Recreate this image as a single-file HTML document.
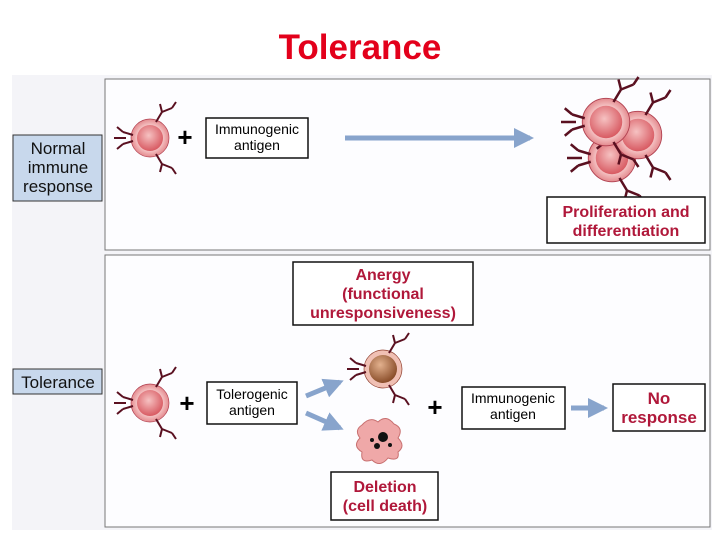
<!DOCTYPE html>
<html><head><meta charset="utf-8"><style>
html,body{margin:0;padding:0;background:#fff;width:720px;height:540px;overflow:hidden}
svg{display:block}
text{font-family:"Liberation Sans",sans-serif}
</style></head><body>
<svg width="720" height="540" viewBox="0 0 720 540">
<defs>
<radialGradient id="rc" cx="45%" cy="40%" r="60%"><stop offset="0" stop-color="#f6c2c2"/><stop offset="1" stop-color="#d85a62"/></radialGradient>
<radialGradient id="rr" cx="50%" cy="50%" r="50%"><stop offset="0.6" stop-color="#f8d0d0"/><stop offset="1" stop-color="#e48a8e"/></radialGradient>
<radialGradient id="bc" cx="40%" cy="35%" r="65%"><stop offset="0" stop-color="#e3b18e"/><stop offset="1" stop-color="#8a4e2a"/></radialGradient>
<g id="sp" stroke="#5a1020" stroke-width="2" fill="none">
<path d="M-17 -3 L-27 -6 M-17 3 L-27 6 M-27 -6 L-33 -11 M-27 6 L-33 11 M-24 0 L-36 0"/>
<path d="M6 -16 L12 -26 M12 -26 L10 -34 M12 -26 L22 -30 M22 -30 L26 -36"/>
<path d="M6 16 L12 26 M12 26 L10 34 M12 26 L22 30 M22 30 L26 36"/>
</g>
<g id="cell"><circle r="19" fill="url(#rr)" stroke="#b04050" stroke-width="0.7"/><circle r="13" fill="url(#rc)"/><use href="#sp"/></g>
<marker id="ah" viewBox="0 0 10 10" refX="8" refY="5" markerWidth="4" markerHeight="4" orient="auto"><path d="M0 0 L10 5 L0 10 z" fill="#88a4cc"/></marker>
</defs>
<text x="360" y="59" text-anchor="middle" font-size="35" font-weight="bold" fill="#e3001b" font-family="Liberation Sans">Tolerance</text>
<rect x="12" y="75" width="700" height="455" fill="#f4f4f8"/>
<rect x="105" y="79" width="605" height="171" fill="#fdfdff" stroke="#777" stroke-width="1"/>
<rect x="105" y="255" width="605" height="272" fill="#fdfdff" stroke="#777" stroke-width="1"/>
<g font-size="17" fill="#111" text-anchor="middle">
<rect x="13" y="135" width="89" height="66" fill="#c8d8ec" stroke="#333"/>
<text x="58" y="154">Normal</text><text x="58" y="173">immune</text><text x="58" y="192">response</text>
<rect x="13" y="369" width="89" height="25" fill="#c8d8ec" stroke="#333"/>
<text x="58" y="388">Tolerance</text>
</g>
<use href="#cell" x="150" y="138"/>
<text x="185" y="146" font-size="26" font-weight="bold" text-anchor="middle">+</text>
<rect x="206" y="118" width="102" height="40" fill="#fff" stroke="#111" stroke-width="1.5"/>
<text x="257" y="134" font-size="14" text-anchor="middle">Immunogenic</text><text x="257" y="150" font-size="14" text-anchor="middle">antigen</text>
<line x1="345" y1="138" x2="530" y2="138" stroke="#88a4cc" stroke-width="5" marker-end="url(#ah)"/>
<g transform="translate(612,158) scale(1.25)"><use href="#cell"/></g>
<g transform="translate(638,135) scale(1.25)"><use href="#cell"/></g>
<g transform="translate(606,122) scale(1.25)"><use href="#cell"/></g>
<rect x="547" y="197" width="158" height="46" fill="#fff" stroke="#111" stroke-width="1.5"/>
<g font-size="16" font-weight="bold" fill="#b0183a" text-anchor="middle">
<text x="626" y="217">Proliferation and</text><text x="626" y="236">differentiation</text>
<rect x="293" y="262" width="180" height="63" fill="#fff" stroke="#111" stroke-width="1.5"/>
<text x="383" y="280">Anergy</text><text x="383" y="299">(functional</text><text x="383" y="318">unresponsiveness)</text>
<rect x="331" y="472" width="107" height="48" fill="#fff" stroke="#111" stroke-width="1.5"/>
<text x="385" y="492">Deletion</text><text x="385" y="511">(cell death)</text>
<rect x="613" y="384" width="92" height="47" fill="#fff" stroke="#111" stroke-width="1.5"/>
<text x="659" y="404" font-size="17">No</text><text x="659" y="423" font-size="17">response</text>
</g>
<use href="#cell" x="150" y="403"/>
<text x="187" y="412" font-size="26" font-weight="bold" text-anchor="middle">+</text>
<rect x="207" y="382" width="90" height="42" fill="#fff" stroke="#111" stroke-width="1.5"/>
<text x="252" y="399" font-size="14" text-anchor="middle">Tolerogenic</text><text x="252" y="415" font-size="14" text-anchor="middle">antigen</text>
<line x1="306" y1="396" x2="340" y2="382" stroke="#88a4cc" stroke-width="5" marker-end="url(#ah)"/>
<line x1="306" y1="413" x2="340" y2="428" stroke="#88a4cc" stroke-width="5" marker-end="url(#ah)"/>
<g transform="translate(383,369)"><circle r="19" fill="#f0c0b4" stroke="#904030" stroke-width="0.7"/><circle r="14" fill="url(#bc)"/><use href="#sp"/></g>
<path d="M362 425 Q370 416 378 422 Q386 414 394 424 Q404 428 398 438 Q406 446 398 452 Q400 462 388 458 Q380 468 372 460 Q360 464 362 452 Q352 446 360 438 Q354 430 362 425 z" fill="#efa8a8" stroke="#c87070"/>
<circle cx="383" cy="437" r="5" fill="#111"/><circle cx="377" cy="446" r="3" fill="#111"/><circle cx="390" cy="445" r="2" fill="#111"/><circle cx="372" cy="440" r="2" fill="#111"/>
<text x="435" y="416" font-size="26" font-weight="bold" text-anchor="middle">+</text>
<rect x="462" y="387" width="103" height="42" fill="#fff" stroke="#111" stroke-width="1.5"/>
<text x="513" y="403" font-size="14" text-anchor="middle">Immunogenic</text><text x="513" y="419" font-size="14" text-anchor="middle">antigen</text>
<line x1="571" y1="408" x2="604" y2="408" stroke="#88a4cc" stroke-width="5" marker-end="url(#ah)"/>
</svg>
</body></html>
